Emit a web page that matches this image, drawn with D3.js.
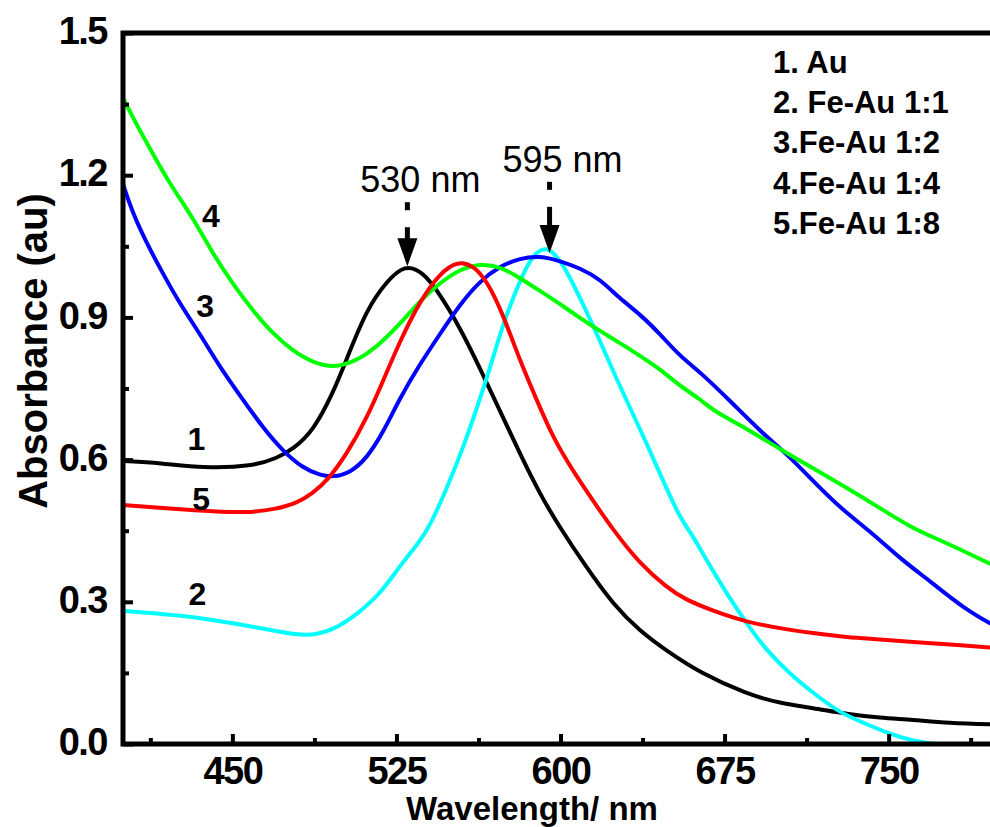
<!DOCTYPE html>
<html>
<head>
<meta charset="utf-8">
<script src="https://cdn.jsdelivr.net/npm/d3@7"></script>
<style>
  body { margin: 0; background: #fff; }
  svg { display: block; font-family: "Liberation Sans", Arial, sans-serif; }
  .tick text { font-weight: bold; font-size: 38px; letter-spacing: -1.5px; fill: #000; }
</style>
</head>
<body>
<div id="chart"></div>
<script>
// wavelength (nm), absorbance (au)
const au = [[400,0.597],[416.9,0.593],[436.6,0.582],[459.4,0.586],[470.4,0.603],[477.7,0.622],[486.9,0.660],[496,0.740],[502.4,0.814],[511.5,0.918],[520.7,0.977],[528.9,1.012],[537.1,0.996],[544.9,0.949],[554.1,0.878],[563.2,0.793],[572.3,0.703],[581.5,0.612],[590.6,0.527],[599.8,0.456],[612.1,0.371],[624,0.295],[636.3,0.238],[648.7,0.196],[663.8,0.150],[685.3,0.105],[700.3,0.086],[715.4,0.076],[731,0.063],[746,0.055],[761.1,0.051],[776.7,0.044],[800,0.041]];
const feAu11 = [[400,0.281],[413.7,0.276],[436.6,0.266],[452.1,0.253],[467.2,0.241],[479.5,0.230],[488.7,0.230],[497.8,0.245],[507,0.274],[517.5,0.316],[526.6,0.376],[535.8,0.428],[540.3,0.460],[548.1,0.540],[555.4,0.624],[561.8,0.709],[567.8,0.793],[573.7,0.886],[580.1,0.962],[586.1,1.025],[592,1.048],[596.6,1.040],[603,0.998],[608.9,0.941],[616.7,0.865],[624,0.787],[631.8,0.709],[639.5,0.633],[646.9,0.555],[654.6,0.477],[659.2,0.449],[667,0.386],[676.1,0.316],[685.3,0.253],[694.4,0.196],[704.9,0.148],[715.4,0.108],[727.8,0.065],[740.1,0.042],[749.3,0.023],[761.1,0.006],[772.1,0.0],[782.6,-0.01]];
const feAu12 = [[400,1.181],[404.6,1.118],[411,1.055],[418.3,0.992],[426.1,0.928],[435.2,0.865],[444.3,0.795],[454.9,0.726],[464,0.667],[473.1,0.618],[482.3,0.582],[490.1,0.567],[496,0.563],[503.8,0.572],[511.5,0.603],[518.9,0.657],[526.6,0.730],[535.8,0.802],[544.9,0.865],[554.1,0.928],[563.2,0.977],[572.3,1.008],[581.5,1.025],[590.6,1.030],[599.8,1.019],[608.9,1.004],[618.1,0.981],[627.2,0.939],[636.3,0.907],[645.5,0.865],[654.6,0.818],[663.8,0.785],[677.5,0.724],[692.6,0.654],[703.5,0.612],[715.4,0.555],[727.8,0.498],[741.5,0.449],[756.6,0.386],[768.9,0.344],[784,0.287],[800,0.245]];
const feAu14 = [[400,1.363],[407.8,1.293],[413.7,1.245],[421.5,1.181],[432,1.110],[441.1,1.034],[450.3,0.970],[459.4,0.914],[468.6,0.865],[477.7,0.829],[486.9,0.804],[497.8,0.793],[508.3,0.812],[517.5,0.844],[526.6,0.886],[535.8,0.935],[544.9,0.973],[554.1,1.002],[563.2,1.013],[572.3,1.008],[581.5,0.983],[590.6,0.956],[599.8,0.928],[608.9,0.899],[618.1,0.871],[627.2,0.846],[636.3,0.819],[645.5,0.791],[654.6,0.755],[663.8,0.728],[669.7,0.703],[685.3,0.665],[700.3,0.622],[715.4,0.582],[731,0.540],[746,0.498],[761.1,0.454],[776.7,0.424],[800,0.372]];
const feAu18 = [[400,0.504],[435.2,0.492],[456.7,0.487],[470.4,0.496],[479.5,0.508],[486.9,0.530],[493.3,0.555],[502.4,0.612],[511.5,0.688],[518.9,0.766],[526.6,0.850],[535.8,0.935],[544.9,0.994],[553.1,1.019],[560,1.010],[566.4,0.977],[573.7,0.907],[581.5,0.808],[589.3,0.724],[596.6,0.646],[605.7,0.576],[614.9,0.513],[624,0.452],[636.3,0.380],[648.7,0.330],[656.9,0.305],[669.7,0.281],[685.3,0.257],[700.3,0.244],[715.4,0.234],[731,0.225],[746,0.221],[761.1,0.215],[776.7,0.211],[800,0.202]];

const series = [
  {key: "1", data: au, color: "#000000"},
  {key: "2", data: feAu11, color: "#00ffff"},
  {key: "3", data: feAu12, color: "#0000ff"},
  {key: "4", data: feAu14, color: "#00ff00"},
  {key: "5", data: feAu18, color: "#ff0000"}
];
const legendLabels = ["1. Au", "2. Fe-Au 1:1", "3.Fe-Au 1:2", "4.Fe-Au 1:4", "5.Fe-Au 1:8"];
// curve numbers, placed in data units
const curveTags = [
  {text: "1", wl: 433.6, a: 0.620},
  {text: "2", wl: 434.0, a: 0.293},
  {text: "3", wl: 437.5, a: 0.901},
  {text: "4", wl: 440.2, a: 1.091},
  {text: "5", wl: 435.7, a: 0.494}
];
// peak markers: wavelength, arrow tip and marker top in absorbance
const peaks = [
  {label: "530 nm", wl: 530, tip: 1.008, top: 1.143},
  {label: "595 nm", wl: 595, tip: 1.036, top: 1.186}
];
const xTicks = d3.range(412.5, 800, 37.5);
const yTicks = d3.range(0, 1.51, 0.15);

const W = 990, H = 827;
const x = d3.scaleLinear().domain([400, 800]).range([123, 998]);
const y = d3.scaleLinear().domain([0, 1.5]).range([744, 33]);

const svg = d3.select("#chart").append("svg")
    .attr("width", W)
    .attr("height", H);

svg.append("clipPath").attr("id", "plot")
  .append("rect")
    .attr("x", x(400)).attr("y", y(1.5))
    .attr("width", x(800) - x(400)).attr("height", y(0) - y(1.5));

// curves
let line = d3.line()
    .x(d => x(d[0]))
    .y(d => y(d[1]))
    .curve(d3.curveBasis);

svg.append("g").attr("clip-path", "url(#plot)")
  .selectAll("path")
  .data(series)
  .enter().append("path")
    .attr("fill", "none")
    .attr("stroke", d => d.color)
    .attr("stroke-width", 4)
    .attr("stroke-linejoin", "round")
    .attr("d", d => line(d.data));

// axes, ticks pointing inwards
let isMajorX = v => Math.abs((v - 450) % 75) < 1e-6;
let isMajorY = v => Math.abs(Math.round(v / 0.3) * 0.3 - v) < 1e-6;

let xAxis = svg.append("g")
    .attr("transform", "translate(0," + y(0) + ")")
    .call(d3.axisBottom(x).tickValues(xTicks).tickSizeOuter(0).tickPadding(7)
      .tickFormat(v => isMajorX(v) ? d3.format("d")(v) : ""));
xAxis.select(".domain").remove();
xAxis.selectAll(".tick line")
    .attr("y2", v => isMajorX(v) ? -10 : -6)
    .attr("stroke-width", 4);

let yAxis = svg.append("g")
    .attr("transform", "translate(" + x(400) + ",0)")
    .call(d3.axisLeft(y).tickValues(yTicks).tickSizeOuter(0).tickPadding(10)
      .tickFormat(v => isMajorY(v) ? d3.format(".1f")(v) : ""));
yAxis.select(".domain").remove();
yAxis.selectAll(".tick line")
    .attr("x2", v => isMajorY(v) ? 10 : 6)
    .attr("stroke-width", 4);
yAxis.selectAll(".tick text").attr("dy", "0.28em");

// frame
svg.append("rect")
    .attr("x", x(400)).attr("y", y(1.5))
    .attr("width", x(800) - x(400)).attr("height", y(0) - y(1.5))
    .attr("fill", "none")
    .attr("stroke", "#000")
    .attr("stroke-width", 5);

// axis titles
svg.append("text")
    .attr("x", 532).attr("y", 820)
    .attr("text-anchor", "middle")
    .style("font-weight", "bold").style("font-size", "33px")
    .text("Wavelength/ nm");

svg.append("text")
    .attr("transform", "translate(47,351) rotate(-90)")
    .attr("text-anchor", "middle")
    .style("font-weight", "bold").style("font-size", "40px")
    .text("Absorbance (au)");

// curve numbers
svg.selectAll(".tag")
  .data(curveTags)
  .enter().append("text")
    .attr("class", "tag")
    .attr("x", d => x(d.wl))
    .attr("y", d => y(d.a))
    .attr("text-anchor", "middle")
    .style("font-weight", "bold").style("font-size", "32px")
    .text(d => d.text);

// legend
svg.append("g").selectAll("text")
  .data(legendLabels)
  .enter().append("text")
    .attr("x", 773)
    .attr("y", (d, i) => 73 + i * 40.2)
    .style("font-weight", "bold").style("font-size", "31px")
    .text(d => d);

// peak markers
let pk = svg.append("g").selectAll("g")
  .data(peaks)
  .enter().append("g");

pk.append("line")
    .attr("x1", d => x(d.wl)).attr("x2", d => x(d.wl))
    .attr("y1", d => y(d.top)).attr("y2", d => y(d.top) + 8)
    .attr("stroke", "#000").attr("stroke-width", 5);

pk.append("line")
    .attr("x1", d => x(d.wl)).attr("x2", d => x(d.wl))
    .attr("y1", d => y(d.top) + 25).attr("y2", d => y(d.tip) - 26)
    .attr("stroke", "#000").attr("stroke-width", 5);

pk.append("path")
    .attr("d", d => {
      let cx = x(d.wl), ty = y(d.tip);
      return "M" + (cx - 10) + "," + (ty - 28) + "L" + (cx + 10) + "," + (ty - 28) + "L" + cx + "," + ty + "Z";
    })
    .attr("fill", "#000");

pk.append("text")
    .attr("x", d => x(d.wl) + 13)
    .attr("y", d => y(d.top) - 10)
    .attr("text-anchor", "middle")
    .style("font-size", "36px")
    .text(d => d.label);
</script>
</body>
</html>
